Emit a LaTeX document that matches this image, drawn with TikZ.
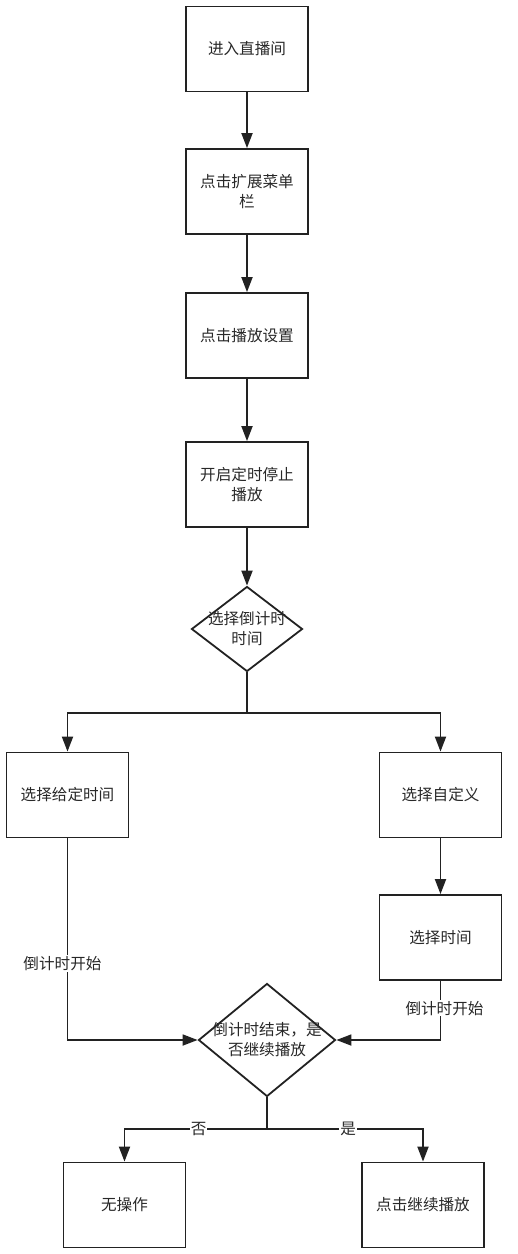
\documentclass[tikz,border=0pt]{standalone}
\usepackage{fontspec}
\setmainfont{Noto Sans CJK SC}
\usetikzlibrary{arrows.meta,shapes.geometric}

\tikzset{every picture/.style={line width=1.8pt}}
\tikzset{
  stepbox/.style={draw={rgb,255:red,34;green,34;blue,34}, minimum width=122, minimum height=85, inner sep=1pt, align=center, text={rgb,255:red,40;green,40;blue,40}},
  decision/.style={draw={rgb,255:red,34;green,34;blue,34}, diamond, inner sep=0pt},
  flow/.style={draw={rgb,255:red,34;green,34;blue,34}, -{Triangle[length=15pt,width=11pt]}},
  flowlabel/.style={fill=white, inner sep=1pt, text={rgb,255:red,40;green,40;blue,40}},
}

\begin{document}
\begin{tikzpicture}[x=1pt,y=1pt,yscale=-1,xscale=1,font=\fontsize{15.6}{20}\selectfont]
\useasboundingbox (0,0) rectangle (518,1254);

% Steps
\node [stepbox] (enter) at (247,49) {进入直播间};
\node [stepbox] (menu) at (247,191.5) {点击扩展菜单\\栏};
\node [stepbox] (settings) at (247,335.5) {点击播放设置};
\node [stepbox] (timer) at (247,484.5) {开启定时停止\\播放};

% Decision: countdown
\node [decision, minimum width=111, minimum height=85] (pick) at (247,629) {};
\node [align=center, text={rgb,255:red,40;green,40;blue,40}] (picktxt) at (pick) {选择倒计时\\时间};

% Branches
\node [stepbox] (given) at (67.5,795) {选择给定时间};
\node [stepbox] (custom) at (440.5,795) {选择自定义};
\node [stepbox] (picktime) at (440.5,937.5) {选择时间};

% Decision: finished
\node [decision, minimum width=137, minimum height=113] (done) at (267,1040) {};
\node [align=center, text={rgb,255:red,40;green,40;blue,40}] (donetxt) at (done) {倒计时结束，是\\否继续播放};

% Results
\node [stepbox] (noop) at (124.5,1205) {无操作};
\node [stepbox] (resume) at (423,1205) {点击继续播放};

\coordinate (split1) at (247,713);
\coordinate (split2) at (267,1129);

% Connectors
\draw [flow] (enter) -- (menu);
\draw [flow] (menu) -- (settings);
\draw [flow] (settings) -- (timer);
\draw [flow] (timer) -- (pick);
\draw [draw={rgb,255:red,34;green,34;blue,34}] (pick.south) -- (split1);
\draw [flow] (split1) -| (given.north);
\draw [flow] (split1) -| (custom.north);
\draw [flow] (custom) -- (picktime);
\draw [flow] (given.south) |- node [flowlabel, pos=0.31, xshift=-5] {倒计时开始} (done.west);
\draw [flow] (picktime.south) |- node [flowlabel, pos=0.23, xshift=4] {倒计时开始} (done.east);
\draw [draw={rgb,255:red,34;green,34;blue,34}] (done.south) -- (split2);
\draw [flow] (split2) -| node [flowlabel, pos=0.24] {否} (noop.north);
\draw [flow] (split2) -| node [flowlabel, pos=0.26] {是} (resume.north);

\end{tikzpicture}
\end{document}
